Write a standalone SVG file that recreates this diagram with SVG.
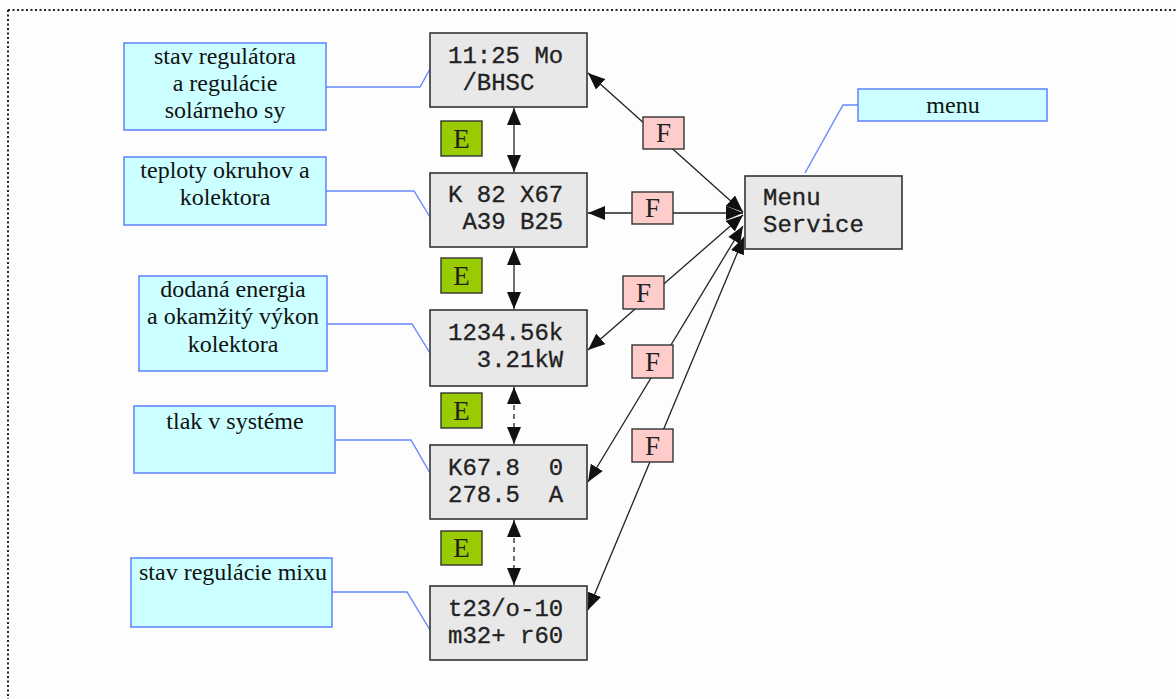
<svg xmlns="http://www.w3.org/2000/svg" width="1176" height="699" viewBox="0 0 1176 699">
<style>
.disp{fill:#e8e8e8;stroke:#333;stroke-width:1.6}
.note{fill:#ccffff;stroke:#6688ff;stroke-width:1.6}
.lead{fill:none;stroke:#6688ff;stroke-width:1.4}
.ebox{fill:#99cc00;stroke:#333;stroke-width:1.4}
.fbox{fill:#ffcccc;stroke:#333;stroke-width:1.4}
.mono{font-family:"Liberation Mono","Courier New",monospace;font-size:24px;fill:#222;stroke:#222;stroke-width:0.3;white-space:pre}
.serif{font-family:"Liberation Serif","Times New Roman",serif;font-size:24px;fill:#111;text-anchor:middle}
.key{font-family:"Liberation Serif","Times New Roman",serif;font-size:27px;fill:#222;text-anchor:middle}
.arr{fill:none;stroke:#222;stroke-width:1.3;marker-start:url(#ah);marker-end:url(#ah)}
.dash{stroke-dasharray:5,4}
.border{fill:none;stroke:#222;stroke-width:2;stroke-dasharray:2,2.5}
</style>
<defs>
<marker id="ah" markerUnits="userSpaceOnUse" markerWidth="18" markerHeight="14" refX="17" refY="7" orient="auto-start-reverse">
<path d="M0,0 L17,7 L0,14 z" fill="#111"/>
</marker>
</defs>
<rect width="1176" height="699" fill="#fdfdfd"/>
<g id="frame">
<line class="border" x1="8" y1="10" x2="1176" y2="10"/>
<line class="border" x1="8" y1="10" x2="8" y2="699"/>
</g>
<g id="connectors">
<polyline class="lead" points="326,87 420,87 430,69"/>
<polyline class="lead" points="326,191 414,191 430,217"/>
<polyline class="lead" points="327,324 412,324 430,353"/>
<polyline class="lead" points="335,440 411,440 430,473"/>
<polyline class="lead" points="332,592 407,592 430,630"/>
<polyline class="lead" points="858,105 843,105 805,173"/>
<line class="arr" x1="514" y1="108" x2="514" y2="172"/>
<line class="arr" x1="514" y1="248" x2="514" y2="309"/>
<line class="arr dash" x1="514" y1="387" x2="514" y2="444"/>
<line class="arr dash" x1="514" y1="520" x2="514" y2="585"/>
<line class="arr" x1="588" y1="73" x2="743" y2="212"/>
<line class="arr" x1="588" y1="213" x2="743" y2="213"/>
<line class="arr" x1="588" y1="350" x2="743" y2="215"/>
<line class="arr" x1="588" y1="482" x2="743" y2="226"/>
<line class="arr" x1="588" y1="610" x2="744" y2="237"/>
</g>
<g id="n1">
<rect class="disp" x="430" y="33" width="157" height="74"/>
<text class="mono" x="448" y="63">11:25 Mo</text>
<text class="mono" x="448" y="90"> /BHSC</text>
</g>
<g id="n2">
<rect class="disp" x="430" y="173" width="157" height="74"/>
<text class="mono" x="448" y="202">K 82 X67</text>
<text class="mono" x="448" y="229"> A39 B25</text>
</g>
<g id="n3">
<rect class="disp" x="430" y="310" width="157" height="76"/>
<text class="mono" x="448" y="340">1234.56k</text>
<text class="mono" x="448" y="367">  3.21kW</text>
</g>
<g id="n4">
<rect class="disp" x="430" y="445" width="157" height="74"/>
<text class="mono" x="448" y="475">K67.8  0</text>
<text class="mono" x="448" y="502">278.5  A</text>
</g>
<g id="n5">
<rect class="disp" x="430" y="586" width="157" height="74"/>
<text class="mono" x="448" y="616">t23/o-10</text>
<text class="mono" x="448" y="643">m32+ r60</text>
</g>
<g id="menuService">
<rect class="disp" x="745" y="176" width="157" height="73"/>
<text class="mono" x="763" y="205">Menu</text>
<text class="mono" x="763" y="232">Service</text>
</g>
<g id="note1">
<rect class="note" x="124" y="43" width="202" height="87"/>
<text class="serif" x="225" y="64">stav regulátora</text>
<text class="serif" x="225" y="91">a regulácie</text>
<text class="serif" x="225" y="118">solárneho sy</text>
</g>
<g id="note2">
<rect class="note" x="124" y="157" width="202" height="68"/>
<text class="serif" x="225" y="178">teploty okruhov a</text>
<text class="serif" x="225" y="205">kolektora</text>
</g>
<g id="note3">
<rect class="note" x="139" y="276" width="188" height="95"/>
<text class="serif" x="233" y="297">dodaná energia</text>
<text class="serif" x="233" y="324">a okamžitý výkon</text>
<text class="serif" x="233" y="352">kolektora</text>
</g>
<g id="note4">
<rect class="note" x="134" y="406" width="201" height="67"/>
<text class="serif" x="235" y="429">tlak v systéme</text>
</g>
<g id="note5">
<rect class="note" x="131" y="558" width="201" height="69"/>
<text class="serif" x="233" y="580">stav regulácie mixu</text>
</g>
<g id="noteMenu">
<rect class="note" x="858" y="89" width="189" height="32"/>
<text class="serif" x="953" y="113">menu</text>
</g>
<g id="e1"><rect class="ebox" x="441" y="121" width="41" height="35"/><text class="key" x="461.5" y="148">E</text></g>
<g id="e2"><rect class="ebox" x="441" y="258" width="41" height="35"/><text class="key" x="461.5" y="285">E</text></g>
<g id="e3"><rect class="ebox" x="441" y="393" width="41" height="35"/><text class="key" x="461.5" y="420">E</text></g>
<g id="e4"><rect class="ebox" x="441" y="531" width="41" height="34"/><text class="key" x="461.5" y="557">E</text></g>
<g id="f1"><rect class="fbox" x="643" y="117" width="41" height="32"/><text class="key" x="663.5" y="142">F</text></g>
<g id="f2"><rect class="fbox" x="632" y="192" width="41" height="32"/><text class="key" x="652.5" y="217">F</text></g>
<g id="f3"><rect class="fbox" x="623" y="276" width="41" height="33"/><text class="key" x="643.5" y="302">F</text></g>
<g id="f4"><rect class="fbox" x="632" y="345" width="41" height="33"/><text class="key" x="652.5" y="371">F</text></g>
<g id="f5"><rect class="fbox" x="632" y="429" width="41" height="33"/><text class="key" x="652.5" y="455">F</text></g>
</svg>
